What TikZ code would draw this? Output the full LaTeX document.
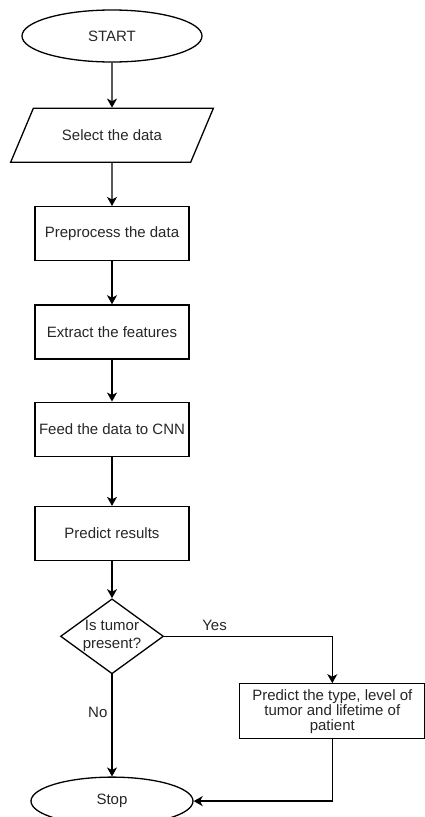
\documentclass[tikz,border=0pt]{standalone}
\usepackage{fontspec}
\setmainfont{Liberation Sans}
\usepackage{tikz}
\usetikzlibrary{arrows.meta,positioning,shapes.geometric}
\tikzset{
  fbase/.style={draw=black, line width=1.3pt, align=center, text=black!85, font=\fontsize{15}{15}\selectfont, inner sep=2pt},
  fterm/.style={fbase, ellipse, inner sep=0pt},
  fio/.style={fbase, trapezium, trapezium left angle=45, trapezium right angle=135, trapezium stretches=true, minimum height=54pt, minimum width=203pt},
  fproc/.style={fbase, rectangle, minimum width=154pt, minimum height=54pt},
  fdec/.style={fbase, diamond, aspect=1.37, inner sep=0pt, minimum width=103pt, minimum height=75pt, font=\fontsize{15}{18}\selectfont},
  farr/.style={-{Stealth[length=9pt,width=10pt,inset=2.5pt]}, line width=1.3pt}
}
\begin{document}
\begin{tikzpicture}[x=1pt,y=1pt]
\useasboundingbox (0,0) rectangle (425,-817);
\node[fterm, minimum width=180pt, minimum height=52pt] (start) at (112,-36) {START};
\node[fio, below=45pt of start] (sel) {Select the data};
\node[fproc, below=43pt of sel] (pre) {Preprocess the data};
\node[fproc, below=43pt of pre] (ext) {Extract the features};
\node[fproc, below=42pt of ext] (feed) {Feed the data to CNN};
\node[fproc, below=49pt of feed] (res) {Predict results};
\node[fdec, below=37pt of res] (dec) {Is tumor\\present?};
\node[fproc, minimum width=185pt, minimum height=55pt, right=75pt of dec, yshift=-75pt] (pred) {Predict the type, level of\\tumor and lifetime of\\patient};
\node[fterm, minimum width=162pt, minimum height=48pt, below=102pt of dec] (stop) {Stop};
\draw[farr] (start)--(sel); \draw[farr] (sel)--(pre); \draw[farr] (pre)--(ext);
\draw[farr] (ext)--(feed); \draw[farr] (feed)--(res); \draw[farr] (res)--(dec);
\draw[farr] (dec.east) -| node[pos=0.15, above=3pt, fbase, draw=none] {Yes} (pred.north);
\draw[farr] (dec) -- node[pos=0.37, left=2pt, fbase, draw=none] {No} (stop);
\draw[farr] (pred.south) |- (stop.east);
\end{tikzpicture}
\end{document}
